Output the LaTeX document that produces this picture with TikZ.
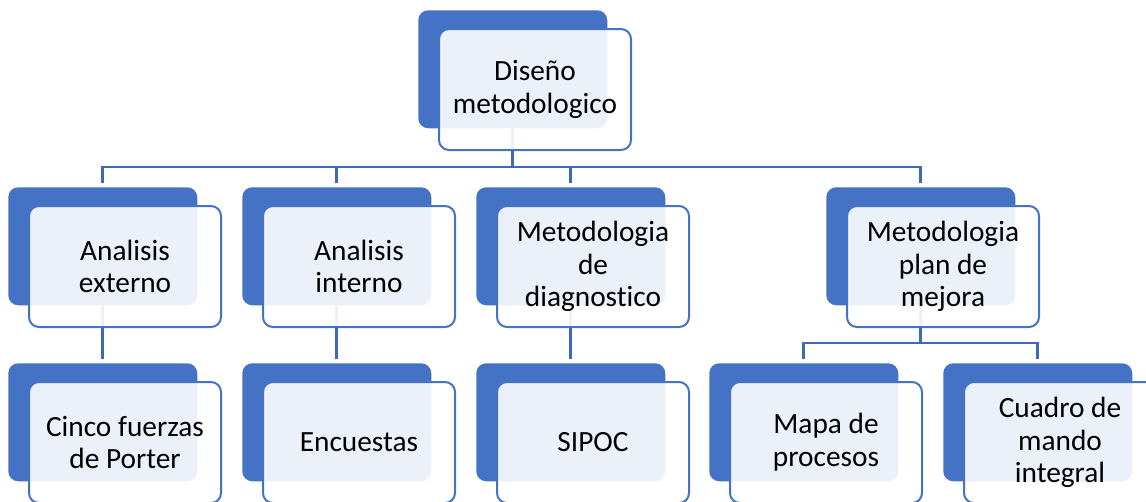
\documentclass[tikz,border=0pt]{standalone}
\usepackage{fontspec}
\setmainfont{Carlito}[Ligatures=CommonOff]
\usetikzlibrary{positioning,backgrounds}
\definecolor{accent}{HTML}{4472C4}
\definecolor{wirecol}{HTML}{3E69B8}

\begin{document}
\begin{tikzpicture}[x=0.75pt,y=-0.75pt,
back/.style={fill=accent, rounded corners=7.5pt, inner sep=0pt,
  minimum width=141.75pt, minimum height=88.5pt, anchor=north west},
front/.style={draw=accent, line width=1.5pt, fill=white, fill opacity=0.9,
  text opacity=1, rounded corners=7.5pt, inner sep=0pt, align=center,
  minimum width=144pt, minimum height=90.75pt, anchor=north west,
  font=\fontsize{22}{24.5}\selectfont},
wire/.style={draw=wirecol, line width=2pt}]
\useasboundingbox (0,0) rectangle (1146,501);
\coordinate (bus) at (0,167);
\coordinate (bus2) at (0,343);
% top
\node[back] (dis) at (418,10) {};
\node[front] (dis-t) at ([shift={(20,18)}]dis.north west) {Diseño\\metodologico};
% second row
\node[back] (ext) at (8,187) {};
\node[front] (ext-t) at ([shift={(20,18)}]ext.north west) {Analisis\\externo};
\node[back] (int) at (242,187) {};
\node[front] (int-t) at ([shift={(20,18)}]int.north west) {Analisis\\interno};
\node[back] (diag) at (476,187) {};
\node[front] (diag-t) at ([shift={(20,18)}]diag.north west) {Metodologia\\de\\diagnostico};
\node[back] (mej) at (826,187) {};
\node[front] (mej-t) at ([shift={(20,18)}]mej.north west) {Metodologia\\plan de\\mejora};
% third row
\node[back] (por) at (8,363) {};
\node[front] (por-t) at ([shift={(20,18)}]por.north west) {Cinco fuerzas\\de Porter};
\node[back] (enc) at (242,363) {};
\node[front] (enc-t) at ([shift={(20,18)}]enc.north west) {Encuestas};
\node[back] (sip) at (476,363) {};
\node[front] (sip-t) at ([shift={(20,18)}]sip.north west) {SIPOC};
\node[back] (map) at (709,363) {};
\node[front] (map-t) at ([shift={(20,18)}]map.north west) {Mapa de\\procesos};
\node[back] (cua) at (943,363) {};
\node[front] (cua-t) at ([shift={(20,18)}]cua.north west) {Cuadro de\\mando\\integral};
% connectors
\begin{scope}[on background layer]
\draw[wire] (dis.south) -- (dis.south |- bus);
\draw[wire, shorten <=3pt, shorten >=3pt] (ext.north) |- (mej.north |- bus) -- (mej.north);
\draw[wire, shorten >=3pt] (int.north |- bus) -- (int.north);
\draw[wire, shorten >=3pt] (diag.north |- bus) -- (diag.north);
\draw[wire, shorten >=3pt] (ext.south) -- (por.north);
\draw[wire, shorten >=3pt] (int.south) -- (enc.north);
\draw[wire, shorten >=3pt] (diag.south) -- (sip.north);
\draw[wire] (mej.south) -- (mej.south |- bus2);
\draw[wire, shorten <=3pt, shorten >=3pt] (map.north) |- (cua.north |- bus2) -- (cua.north);
\end{scope}
\end{tikzpicture}
\end{document}
